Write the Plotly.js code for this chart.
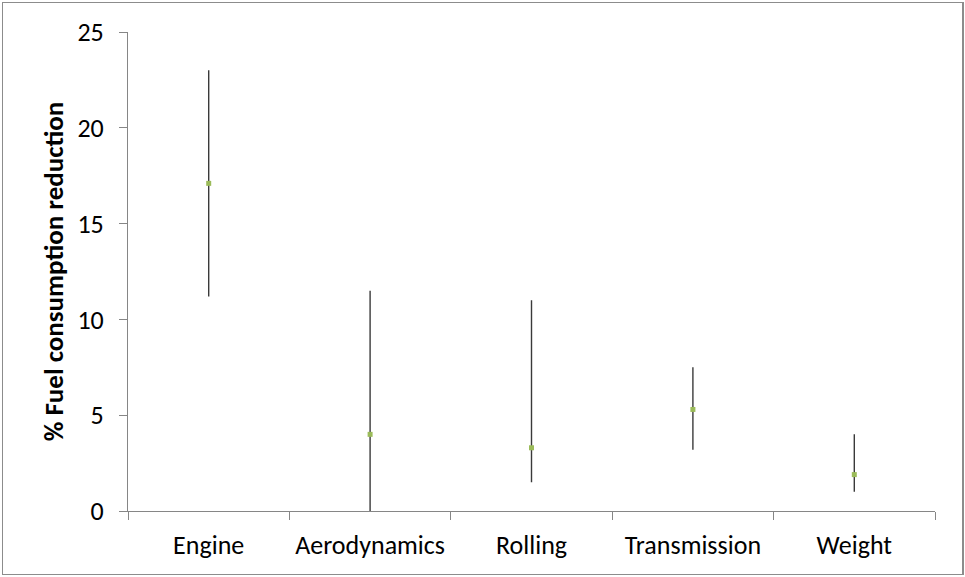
<!DOCTYPE html>
<html>
<head>
<meta charset="utf-8">
<script src="https://cdn.plot.ly/plotly-3.0.1.min.js"></script>
<style>
  html, body { margin: 0; padding: 0; background: #fff; }
  #wrap { position: relative; width: 965px; height: 577px; }
  #chart { position: absolute; left: 0; top: 0; width: 965px; height: 577px; }
  #frame { position: absolute; left: 2px; top: 2px; width: 959px; height: 571px; border: 1px solid #8c8c8c; border-right: 2px solid #8c8c8c; pointer-events: none; }
</style>
</head>
<body>
<div id="wrap"><div id="chart"></div><div id="frame"></div></div>
<script>
const categories = ["Engine", "Aerodynamics", "Rolling", "Transmission", "Weight"];
const highValues = [23, 11.5, 11, 7.5, 4];
const lowValues = [11.2, 0, 1.5, 3.2, 1];
const midValues = [17.1, 4, 3.3, 5.3, 1.9];
const yTickValues = [0, 5, 10, 15, 20, 25];

const FONT = "Carlito, Calibri, 'Liberation Sans Narrow', 'Liberation Sans', sans-serif";

const trace = {
  type: "scatter",
  mode: "markers",
  x: categories,
  y: midValues,
  marker: { color: "#9bbb59", size: 5, symbol: "square" },
  error_y: {
    type: "data",
    symmetric: false,
    array: highValues.map((h, i) => h - midValues[i]),
    arrayminus: midValues.map((m, i) => m - lowValues[i]),
    color: "#3a3a3a",
    thickness: 1.4,
    width: 0
  },
  hoverinfo: "x+y",
  showlegend: false
};

const layout = {
  width: 965,
  height: 577,
  margin: { l: 128, r: 30, t: 32, b: 66 },
  paper_bgcolor: "#ffffff",
  plot_bgcolor: "#ffffff",
  font: { family: FONT, color: "#000000", size: 26 },
  xaxis: {
    type: "category",
    range: [-0.5, 4.5],
    showgrid: false,
    zeroline: false,
    showline: true,
    linecolor: "#868686",
    linewidth: 1,
    ticks: "outside",
    tickson: "boundaries",
    ticklen: 8,
    tickcolor: "#868686",
    ticklabelstandoff: 11,
    tickfont: { family: FONT, size: 26, color: "#000" },
    fixedrange: true
  },
  yaxis: {
    range: [0, 25],
    tickvals: yTickValues,
    showgrid: false,
    zeroline: false,
    showline: true,
    linecolor: "#868686",
    linewidth: 1,
    ticks: "outside",
    ticklen: 8,
    tickcolor: "#868686",
    ticklabelstandoff: 10,
    tickfont: { family: FONT, size: 26, color: "#000" },
    title: { text: "<b>% Fuel consumption reduction</b>", font: { family: FONT, size: 27, color: "#000" }, standoff: 5 },
    fixedrange: true
  }
};

Plotly.newPlot("chart", [trace], layout, { displayModeBar: false, staticPlot: true });
</script>
</body>
</html>
